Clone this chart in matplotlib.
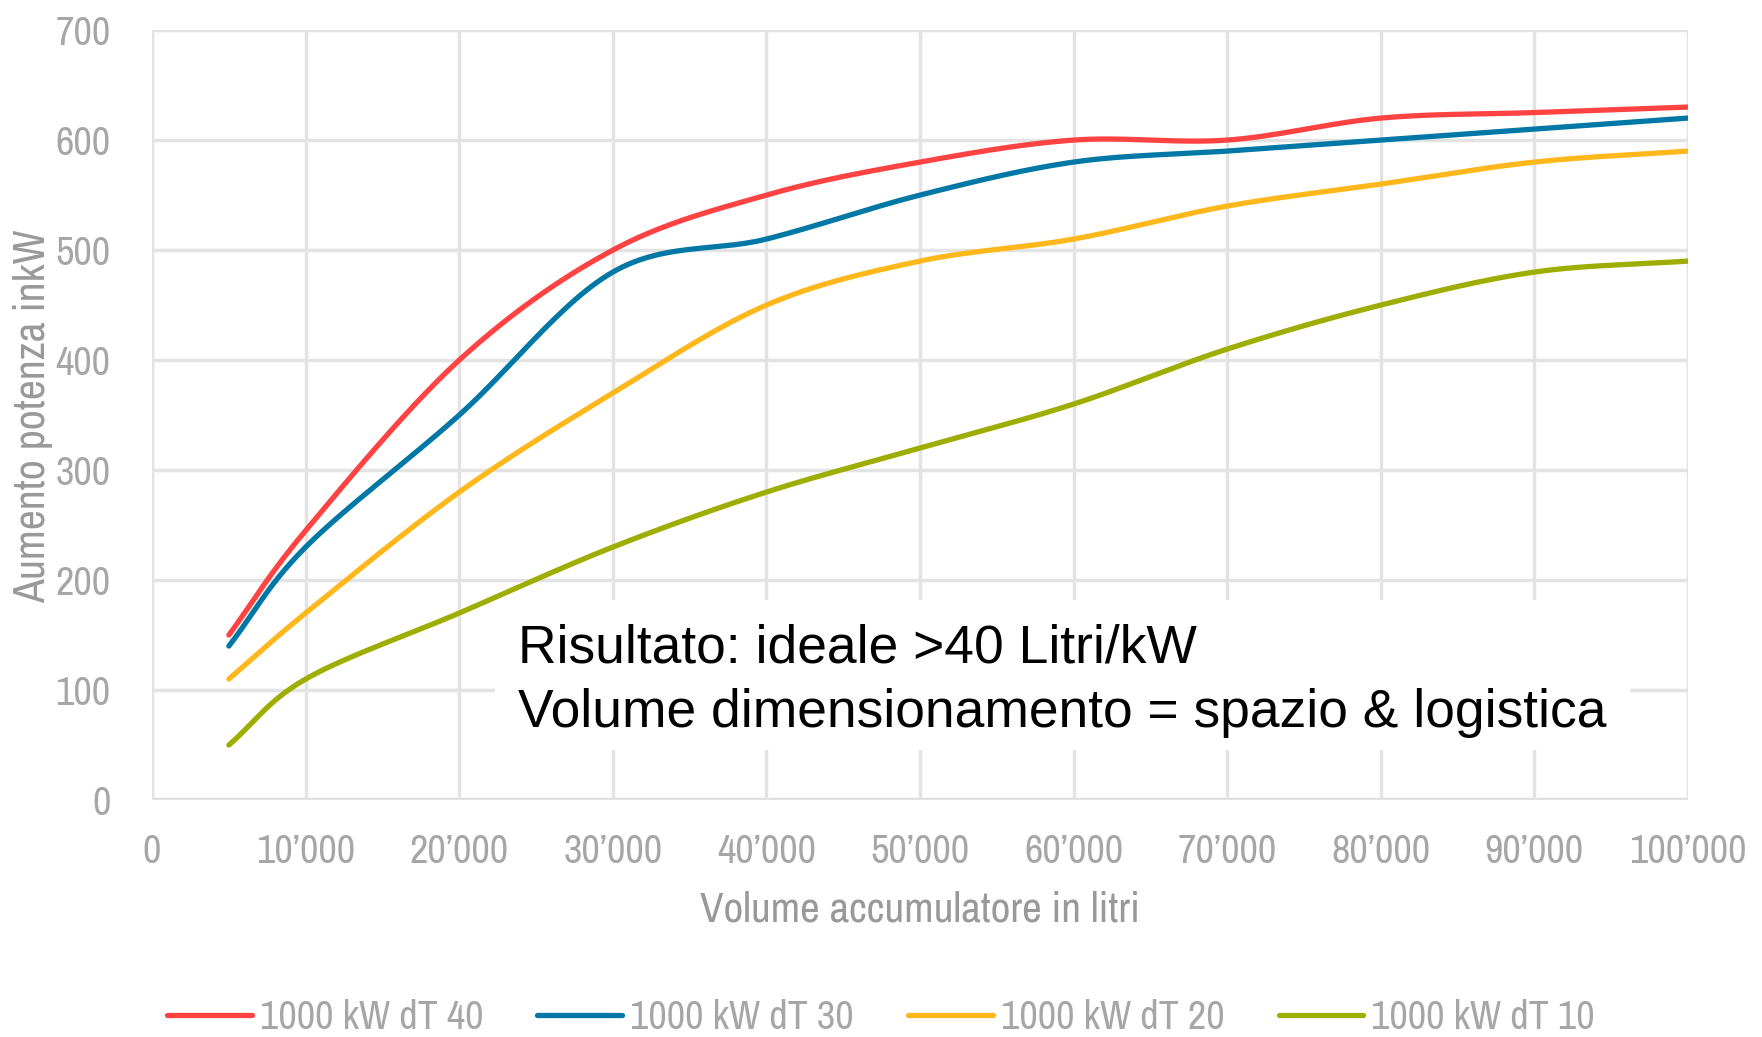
import numpy as np
import matplotlib
matplotlib.use("Agg")
import matplotlib.pyplot as plt
from matplotlib.patches import Rectangle

# data
volume = [5000, 10000, 20000, 30000, 40000, 50000, 60000, 70000, 80000, 90000, 100000]
dt40 = [150, 245, 400, 500, 550, 580, 600, 600, 620, 625, 630]
dt30 = [140, 230, 350, 480, 510, 550, 580, 590, 600, 610, 620]
dt20 = [110, 170, 280, 370, 450, 490, 510, 540, 560, 580, 590]
dt10 = [50, 110, 170, 230, 280, 320, 360, 410, 450, 480, 490]
labels = ["1000 kW dT 40", "1000 kW dT 30", "1000 kW dT 20", "1000 kW dT 10"]
colors = ["#FF4343", "#0078A6", "#FFB81C", "#9DAE00"]
x_ticks = [0, 10000, 20000, 30000, 40000, 50000, 60000, 70000, 80000, 90000, 100000]
y_ticks = [0, 100, 200, 300, 400, 500, 600, 700]

gray = "#A6A6A6"
grid = "#E3E3E3"
narrow = ["Archivo Narrow", "DejaVu Sans"]


def smooth(x, y, n=30):
    # catmull-rom curve through the points, like Excel's smoothed lines
    x = np.asarray(x, float)
    y = np.asarray(y, float)
    px = np.concatenate([[2 * x[0] - x[1]], x, [2 * x[-1] - x[-2]]])
    py = np.concatenate([[2 * y[0] - y[1]], y, [2 * y[-1] - y[-2]]])
    xs, ys = [], []
    t = np.linspace(0, 1, n)
    for i in range(1, len(px) - 2):
        for p, out in ((px, xs), (py, ys)):
            p0, p1, p2, p3 = p[i - 1], p[i], p[i + 1], p[i + 2]
            out.extend(0.5 * ((2 * p1) + (-p0 + p2) * t
                              + (2 * p0 - 5 * p1 + 4 * p2 - p3) * t ** 2
                              + (-p0 + 3 * p1 - 3 * p2 + p3) * t ** 3))
    return xs, ys


fig = plt.figure(figsize=(17.62, 10.37), dpi=100)
ax = fig.add_axes([0.0863, 0.2285, 0.8717, 0.7425])

for y, lab, c in zip([dt40, dt30, dt20, dt10], labels, colors):
    sx, sy = smooth(volume, y)
    ax.plot(sx, sy, color=c, lw=3.8, label=lab, solid_capstyle="round", zorder=3)

ax.set_xlim(0, 100000)
ax.set_ylim(0, 700)
ax.set_xticks(x_ticks)
ax.set_yticks(y_ticks)
ax.set_xticklabels([f"{v:,}".replace(",", "’") for v in x_ticks])
ax.set_yticklabels([str(v) for v in y_ticks])
ax.tick_params(length=0, colors=gray, labelsize=29)
ax.tick_params(axis="x", pad=24)
ax.tick_params(axis="y", pad=30)
for lab in ax.get_xticklabels() + ax.get_yticklabels():
    lab.set_family(narrow)
ax.grid(True, color=grid, lw=2.5, zorder=0)
for s in ax.spines.values():
    s.set_visible(False)
ax.axhline(0, color="#D9D9D9", lw=3, zorder=1)
ax.axvline(0, color="#D9D9D9", lw=3, zorder=1)

# text box covering the grid
ax.add_patch(Rectangle((0.223, 0.065), 0.739, 0.195, transform=ax.transAxes,
                       facecolor="white", edgecolor="none", zorder=2))
ax.text(0.238, 0.179, "Risultato: ideale >40 Litri/kW", transform=ax.transAxes,
        fontsize=38.4, family="Liberation Sans", va="baseline", zorder=4)
ax.text(0.238, 0.095, "Volume dimensionamento = spazio & logistica", transform=ax.transAxes,
        fontsize=38.4, family="Liberation Sans", va="baseline", zorder=4)

fig.text(0.522, 0.1225, "Volume accumulatore in litri", ha="center", va="center",
         fontsize=31, color="#999999", family=narrow)
fig.text(0.0185, 0.599, "Aumento potenza inkW", ha="center", va="center",
         rotation=90, fontsize=31.5, color="#999999", family=narrow)

fig.legend(loc="center", bbox_to_anchor=(0.5, 0.019), ncol=4, frameon=False,
           prop={"family": narrow, "size": 29}, labelcolor=gray,
           handlelength=2.1, handletextpad=0.2, columnspacing=1.35)

fig.savefig("out.png", dpi=100)
